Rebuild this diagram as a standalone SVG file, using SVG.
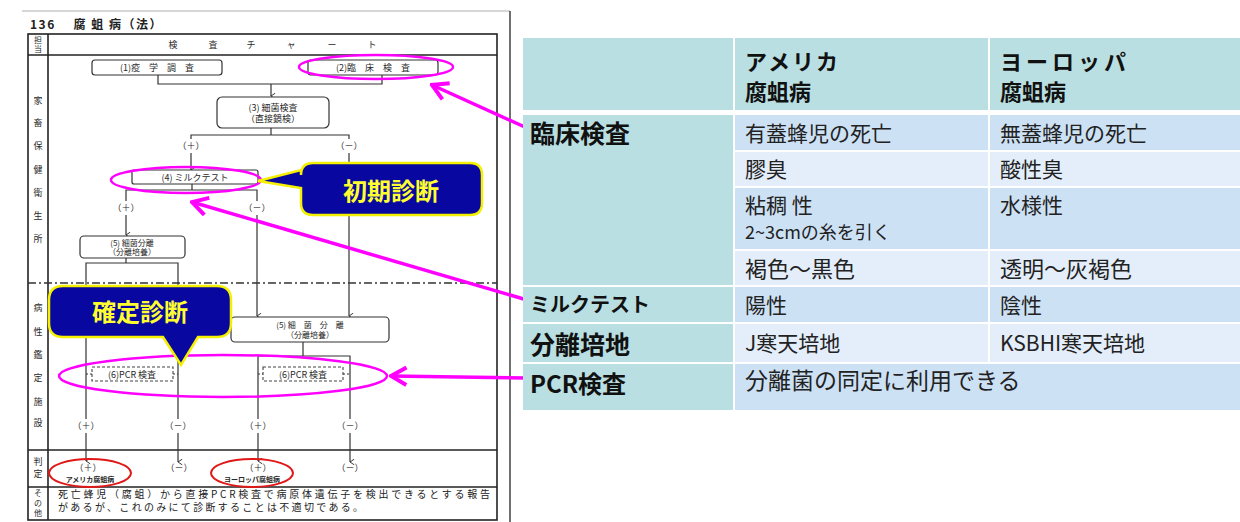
<svg xmlns="http://www.w3.org/2000/svg" width="1240" height="522" viewBox="0 0 1240 522">
<defs>
<style>
.scan{font-family:"Noto Sans CJK JP","Noto Sans",sans-serif;fill:#2a2a2a;font-size:9px;text-anchor:middle}
.sm{font-size:8px}
.ln{stroke:#333;stroke-width:1.2;fill:none}
.frame{stroke:#222;stroke-width:1.6;fill:none}
.box{stroke:#333;stroke-width:1.2;fill:#fff}
.dbox{stroke:#444;stroke-width:1.1;fill:#fff;stroke-dasharray:3 2}
.mag{stroke:#ff00ff;stroke-width:2.5;fill:none}
.marr{stroke:#ff00ff;stroke-width:3.5;fill:none}
.red{stroke:#e01818;stroke-width:2;fill:none}
.call{fill:#0808a0;stroke:#f4f000;stroke-width:2.5}
.calltx{font-family:"Noto Sans CJK JP",sans-serif;font-weight:700;font-size:24px;fill:#ffff30;text-anchor:middle}
.th{font-family:"Noto Sans CJK JP",sans-serif;font-weight:700;font-size:22px;fill:#111}
.td{font-family:"Noto Sans CJK JP",sans-serif;font-size:21px;fill:#222}
.teal{fill:#b9dfe2}
.dk{fill:#cde1f5}
.lt{fill:#e4eefa}
</style>
<marker id="ah" viewBox="0 0 10 10" refX="5" refY="9" markerWidth="7" markerHeight="7" orient="auto-start-reverse" markerUnits="userSpaceOnUse">
<path d="M1,3 L5,9 L9,3" stroke="#333" stroke-width="1.4" fill="none"/>
</marker>
<marker id="mh" viewBox="0 0 10 10" refX="9" refY="5" markerWidth="22" markerHeight="22" orient="auto" markerUnits="userSpaceOnUse">
<path d="M2,1 L9,5 L2,9" stroke="#ff00ff" stroke-width="1.8" fill="none"/>
</marker>
</defs>
<rect width="1240" height="522" fill="#fff"/>

<g id="page">
<line x1="22" y1="11" x2="510" y2="11" stroke="#999" stroke-width="0.8"/>
<line x1="510" y1="11" x2="510" y2="522" stroke="#333" stroke-width="1.4"/>
<text x="30" y="29" style="font-family:'Noto Sans CJK JP',sans-serif;font-size:12px;font-weight:700;fill:#222;letter-spacing:1.5px">136　 腐 蛆 病（法）</text>
<rect x="28" y="34" width="469" height="486" class="frame"/>
<line x1="48" y1="34" x2="48" y2="520" class="frame"/>
<line x1="28" y1="55" x2="497" y2="55" class="frame"/>
<line x1="28" y1="450" x2="497" y2="450" class="frame"/>
<line x1="28" y1="487" x2="497" y2="487" class="frame"/>
<line x1="28" y1="283" x2="497" y2="283" stroke="#333" stroke-width="1.3" stroke-dasharray="8 3 2 3"/>
<g class="scan sm">
<text x="38" y="43">担</text><text x="38" y="52">当</text>
<text x="38" y="496">そ</text><text x="38" y="506">の</text><text x="38" y="516">他</text>
</g>
<g class="scan">
<text x="173" y="48">検</text><text x="213" y="48">査</text><text x="251" y="48">チ</text><text x="291" y="48">ャ</text><text x="332" y="48">ー</text><text x="372" y="48">ト</text>
<text x="38" y="104">家</text><text x="38" y="126">畜</text><text x="38" y="149">保</text><text x="38" y="173">健</text><text x="38" y="196">衛</text><text x="38" y="219">生</text><text x="38" y="242">所</text>
<text x="38" y="311">病</text><text x="38" y="335">性</text><text x="38" y="358">鑑</text><text x="38" y="381">定</text><text x="38" y="405">施</text><text x="38" y="426">設</text>
<text x="38" y="465">判</text><text x="38" y="477">定</text>
</g>
<g style="font-family:'Noto Sans CJK JP',sans-serif;font-size:10px;fill:#222">
<text x="58" y="498" textLength="432" lengthAdjust="spacing">死亡蜂児（腐蛆）から直接PCR検査で病原体遺伝子を検出できるとする報告</text>
<text x="58" y="511" textLength="305" lengthAdjust="spacing">があるが、これのみにて診断することは不適切である。</text>
</g>
</g>

<g id="connectors">
<polyline class="ln" points="158,75 158,84 382,84 382,75"/>
<line class="ln" x1="271" y1="84" x2="271" y2="96" marker-end="url(#ah)"/>
<polyline class="ln" points="191,139 191,135 349,135 349,139"/>
<line class="ln" x1="271" y1="128" x2="271" y2="135"/>
<line class="ln" x1="191" y1="153" x2="191" y2="170" marker-end="url(#ah)"/>
<line class="ln" x1="349" y1="153" x2="349" y2="316" marker-end="url(#ah)"/>
<line class="ln" x1="192" y1="184" x2="192" y2="190"/>
<polyline class="ln" points="126,201 126,190 257,190 257,201"/>
<line class="ln" x1="126" y1="215" x2="126" y2="235" marker-end="url(#ah)"/>
<line class="ln" x1="257" y1="215" x2="257" y2="316" marker-end="url(#ah)"/>
<line class="ln" x1="126" y1="258" x2="126" y2="263"/>
<polyline class="ln" points="86,419 86,263 178,263 178,419"/>
<line class="ln" x1="86" y1="433" x2="86" y2="461" marker-end="url(#ah)"/>
<line class="ln" x1="178" y1="433" x2="178" y2="462" marker-end="url(#ah)"/>
<line class="ln" x1="303" y1="342" x2="303" y2="356"/>
<polyline class="ln" points="258,419 258,356 350,356 350,419"/>
<line class="ln" x1="258" y1="433" x2="258" y2="461" marker-end="url(#ah)"/>
<line class="ln" x1="350" y1="433" x2="350" y2="462" marker-end="url(#ah)"/>
<line class="ln" x1="86" y1="374" x2="92" y2="374" stroke-dasharray="2 2"/>
<line class="ln" x1="173" y1="374" x2="178" y2="374" stroke-dasharray="2 2"/>
<line class="ln" x1="258" y1="374" x2="263" y2="374" stroke-dasharray="2 2"/>
<line class="ln" x1="343" y1="374" x2="350" y2="374" stroke-dasharray="2 2"/>
<g class="scan">
<text x="191" y="149">（＋）</text><text x="349" y="149">（－）</text>
<text x="126" y="211">（＋）</text><text x="257" y="211">（－）</text>
<text x="86" y="429">（＋）</text><text x="178" y="429">（－）</text>
<text x="258" y="429">（＋）</text><text x="350" y="429">（－）</text>
<text x="179" y="471">（－）</text><text x="350" y="471">（－）</text>
</g>
</g>

<g id="n1"><rect class="box" x="92" y="60" width="130" height="15" rx="3"/><text class="scan" x="157" y="71">(1)疫　学　調　査</text></g>
<g id="n2"><rect class="box" x="308" y="60" width="130" height="15" rx="3"/><text class="scan" x="373" y="71">(2)臨　床　検　査</text></g>
<g id="n3"><rect class="box" x="217" y="97" width="112" height="31" rx="5"/><text class="scan" x="273" y="111">(3) 細菌検査</text><text class="scan" x="273" y="122">（直接鏡検）</text></g>
<g id="n4"><rect class="box" x="132" y="170" width="126" height="14" rx="2"/><text class="scan" x="195" y="181">(4) ミルクテスト</text></g>
<g id="n5a"><rect class="box" x="80" y="236" width="105" height="22" rx="4"/><text class="scan sm" x="132" y="246">(5) 細菌分離</text><text class="scan sm" x="132" y="255">（分離培養）</text></g>
<g id="n5b"><rect class="box" x="231" y="317" width="158" height="25" rx="4"/><text class="scan sm" x="310" y="328">(5) 細　菌　分　離</text><text class="scan sm" x="310" y="338">（分離培養）</text></g>
<g id="n6a"><rect class="dbox" x="92" y="367" width="81" height="14"/><text class="scan" x="132" y="378">(6)PCR 検査</text></g>
<g id="n6b"><rect class="dbox" x="263" y="367" width="80" height="14"/><text class="scan" x="303" y="378">(6)PCR 検査</text></g>
<g id="jA"><text class="scan" x="88" y="471">（＋）</text><text class="scan" x="90" y="482" style="font-size:7px;font-weight:700">アメリカ腐蛆病</text><ellipse class="red" cx="90" cy="473" rx="41" ry="14"/></g>
<g id="jE"><text class="scan" x="258" y="471">（＋）</text><text class="scan" x="252" y="482" style="font-size:7px;font-weight:700">ヨーロッパ腐蛆病</text><ellipse class="red" cx="252" cy="473" rx="41" ry="14"/></g>

<g id="highlights">
<ellipse class="mag" cx="376" cy="67" rx="77" ry="12"/>
<ellipse class="mag" cx="186" cy="180" rx="75" ry="13"/>
<ellipse class="mag" cx="223" cy="376" rx="164" ry="21"/>
<line class="marr" x1="527" y1="128" x2="432" y2="85" marker-end="url(#mh)"/>
<line class="marr" x1="527" y1="300" x2="192" y2="202" marker-end="url(#mh)"/>
<line class="marr" x1="527" y1="378" x2="391" y2="376" marker-end="url(#mh)"/>
</g>

<g id="callout1"><path class="call" d="M313,163 H470 Q482,163 482,175 V203 Q482,215 470,215 H313 Q301,215 301,203 V188 L258,181 L301,170 V175 Q301,163 313,163 Z"/><text class="calltx" x="391" y="200">初期診断</text></g>
<g id="callout2"><path class="call" d="M63,286 H217 Q231,286 231,300 V323 Q231,337 217,337 H198 L181,365 L163,337 H63 Q49,337 49,323 V300 Q49,286 63,286 Z"/><text class="calltx" x="140" y="321">確定診断</text></g>

<g id="table">
<rect class="teal" x="523" y="38" width="717" height="72"/>
<rect x="733" y="38" width="2" height="72" fill="#fff"/>
<rect x="988" y="38" width="2" height="72" fill="#fff"/>
<rect class="teal" x="523" y="115" width="210" height="170"/>
<rect class="teal" x="523" y="287" width="210" height="35"/>
<rect class="teal" x="523" y="324" width="210" height="38"/>
<rect class="teal" x="523" y="364" width="210" height="46"/>
<rect class="dk" x="735" y="115" width="253" height="35"/><rect class="dk" x="990" y="115" width="250" height="35"/>
<rect class="lt" x="735" y="152" width="253" height="34"/><rect class="lt" x="990" y="152" width="250" height="34"/>
<rect class="dk" x="735" y="188" width="253" height="61"/><rect class="dk" x="990" y="188" width="250" height="61"/>
<rect class="lt" x="735" y="251" width="253" height="34"/><rect class="lt" x="990" y="251" width="250" height="34"/>
<rect class="dk" x="735" y="287" width="253" height="35"/><rect class="dk" x="990" y="287" width="250" height="35"/>
<rect class="lt" x="735" y="324" width="253" height="38"/><rect class="lt" x="990" y="324" width="250" height="38"/>
<rect class="dk" x="735" y="364" width="505" height="46"/>
<text class="th" x="745" y="70" style="letter-spacing:2px">アメリカ</text><text class="th" x="745" y="100">腐蛆病</text>
<text class="th" x="1000" y="70" style="letter-spacing:4px">ヨーロッパ</text><text class="th" x="1000" y="100">腐蛆病</text>
<text class="th" x="530" y="143" style="font-size:25px">臨床検査</text>
<text class="th" x="530" y="312" style="font-size:20px">ミルクテスト</text>
<text class="th" x="530" y="354" style="font-size:25px">分離培地</text>
<text class="th" x="530" y="393" style="font-size:24px">PCR検査</text>
<text class="td" x="745" y="141">有蓋蜂児の死亡</text><text class="td" x="1000" y="141">無蓋蜂児の死亡</text>
<text class="td" x="745" y="177">膠臭</text><text class="td" x="1000" y="177">酸性臭</text>
<text class="td" x="745" y="213">粘稠 性</text><text class="td" x="745" y="239" style="font-size:18px">2~3cmの糸を引く</text><text class="td" x="1000" y="213">水様性</text>
<text class="td" x="745" y="277" style="font-size:22px">褐色～黒色</text><text class="td" x="1000" y="277" style="font-size:22px">透明～灰褐色</text>
<text class="td" x="745" y="313">陽性</text><text class="td" x="1000" y="313">陰性</text>
<text class="td" x="745" y="351">J寒天培地</text><text class="td" x="1000" y="351">KSBHI寒天培地</text>
<text class="td" x="745" y="389" style="font-size:23px">分離菌の同定に利用できる</text>
</g>
</svg>
